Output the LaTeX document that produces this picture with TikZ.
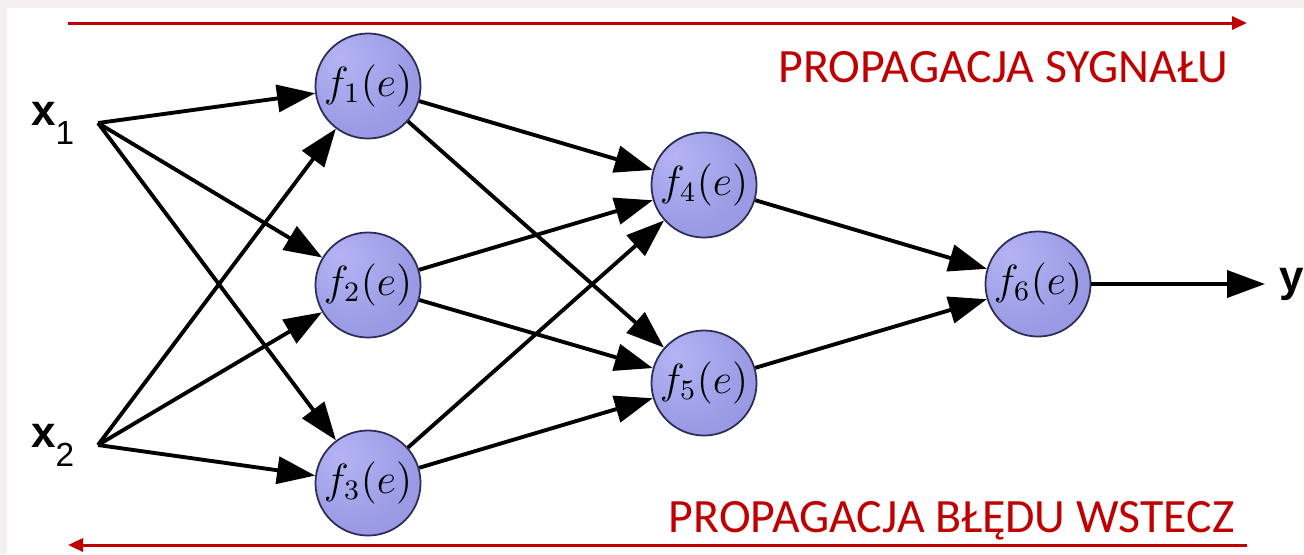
\documentclass[tikz,border=0pt]{standalone}
\usepackage{fontspec}
\usepackage{tikz}
\usetikzlibrary{arrows.meta, positioning}

\setmainfont{Carlito}
\newfontfamily\inputfont{Liberation Sans}

\definecolor{errred}{HTML}{C00000}
\definecolor{ballhi}{HTML}{B4B4F4}
\definecolor{ballmid}{HTML}{9C9CE6}
\definecolor{balllo}{HTML}{6868AE}
\definecolor{ballrim}{HTML}{2C2C55}
\definecolor{pagebg}{HTML}{F4F0EF}

% lit from the top left, darker towards the bottom right
\pgfdeclareradialshading{neuronball}{\pgfpoint{-14bp}{14bp}}{%
  color(0bp)=(ballhi); color(28bp)=(ballmid); color(55bp)=(ballmid!80!balllo); color(70bp)=(balllo)}

\begin{document}
\begin{tikzpicture}[x=0.01cm, y=-0.01cm,
    >={Triangle[length=3.8mm, width=2.7mm]},
    neuron/.style={circle, draw=ballrim, line width=0.5pt, minimum size=1.05cm,
                   inner sep=0pt, shading=neuronball, font=\fontsize{11.5}{13}\selectfont},
    inlabel/.style={font=\inputfont\fontsize{12.5}{14}\selectfont, inner xsep=0.23cm, inner ysep=0pt},
    flow/.style={errred, line width=0.85pt, -{Triangle[length=1.5mm, width=1.3mm]}},
    flowtext/.style={errred, font=\fontsize{13.6}{16}\selectfont, inner sep=0pt}]

    \useasboundingbox (0,0) rectangle (1304,554);
    \fill[pagebg] (0,0) rectangle (1304,554);
    \fill[white] (7,8) rectangle (1304,554);

    % neurons
    \node[neuron] (f1) at (368,86)  {$f_1(e)$};
    \node[neuron] (f2) at (368,285) {$f_2(e)$};
    \node[neuron] (f3) at (368,483) {$f_3(e)$};
    \node[neuron] (f4) at (704,185) {$f_4(e)$};
    \node[neuron] (f5) at (704,383) {$f_5(e)$};
    \node[neuron] (f6) at (1038,284) {$f_6(e)$};

    % inputs and output
    \node[inlabel, anchor=east] (x1) at (98,123) {\textbf{x}\raisebox{-0.19cm}{\fontsize{9.5}{10}\selectfont 1}};
    \node[inlabel, anchor=east] (x2) at (98,445) {\textbf{x}\raisebox{-0.19cm}{\fontsize{9.5}{10}\selectfont 2}};
    \node[inlabel, anchor=west, inner xsep=0.14cm] (y) at (1265,284) {\textbf{y}};

    \path[->, line width=1.1pt]
        (x1.east) edge (f1) edge (f2) edge (f3)
        (x2.east) edge (f1) edge (f2) edge (f3)
        (f1) edge (f4) edge (f5)
        (f2) edge (f4) edge (f5)
        (f3) edge (f4) edge (f5)
        (f4) edge (f6)
        (f5) edge (f6)
        (f6) edge (y);

    % signal forwards, error backwards
    \coordinate (sigstart) at (68,23);
    \coordinate (sigend) at (1247,23);
    \coordinate (errstart) at (1247,545);
    \coordinate (errend) at (68,545);
    \draw[flow] (sigstart) -- (sigend);
    \draw[flow] (errstart) -- (errend);
    \node[flowtext, anchor=base east] (sig) at (1229,82) {PROPAGACJA SYGNAŁU};
    \node[flowtext, anchor=base east] (err) at (1235,532) {PROPAGACJA BŁĘDU WSTECZ};
\end{tikzpicture}
\end{document}
